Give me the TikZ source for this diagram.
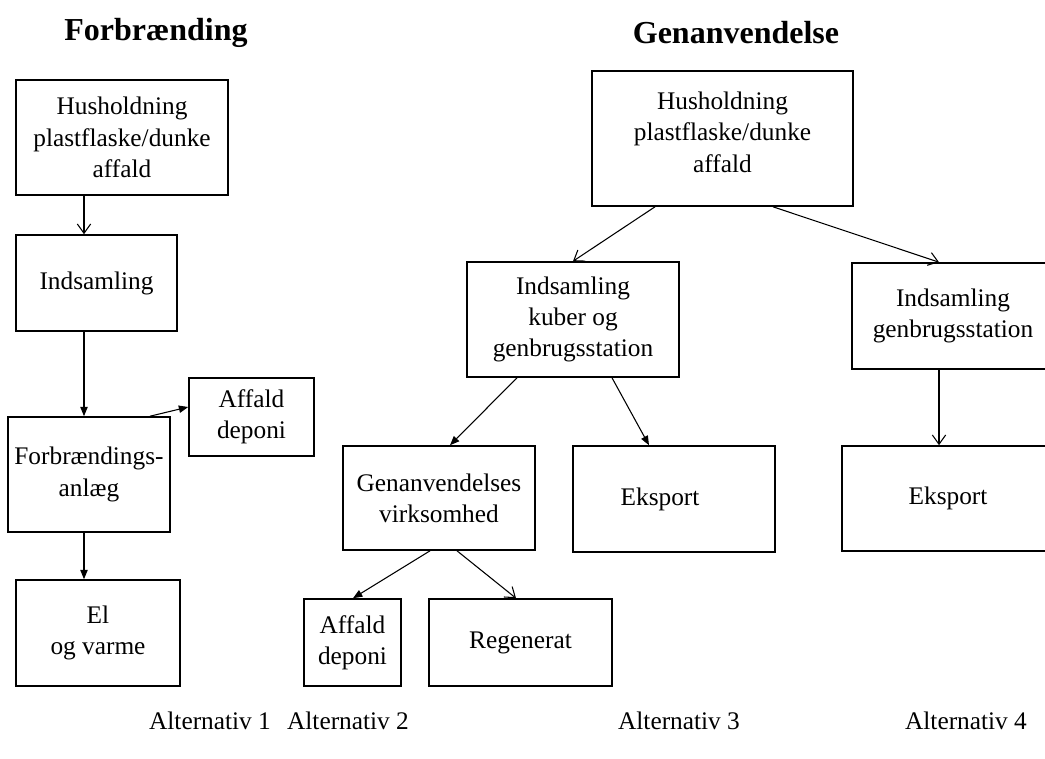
\documentclass[tikz,border=0pt]{standalone}
\usepackage{fontspec}
\setmainfont{Liberation Serif}
\usetikzlibrary{arrows.meta}
\begin{document}
\begin{tikzpicture}[x=0.75pt,y=-0.75pt,
  box/.style={draw, line width=1.2pt, inner sep=0pt, align=center,
    font=\fontsize{19}{23.5}\selectfont},
  plain/.style={inner sep=0pt, align=center, font=\fontsize{19}{23.5}\selectfont},
  openarr/.style={-{Straight Barb[length=7pt,width=10pt]}, line width=0.8pt},
  farr/.style={-{Triangle[length=7pt,width=5.5pt]}, line width=0.8pt},
  ttl/.style={inner sep=0pt, anchor=base, font=\fontsize{24}{28}\selectfont\bfseries},
  alt/.style={inner sep=0pt, anchor=base, font=\fontsize{19}{23}\selectfont}]
\useasboundingbox (0,0) rectangle (1045,758);

% titles
\node[ttl] (t1) at (156,40) {Forbrænding};
\node[ttl] (t2) at (736,43) {Genanvendelse};

% left column
\node[box, minimum width=159pt, minimum height=86.25pt] (hus1) at (122,137.5) {Husholdning\\plastflaske/dunke\\affald};
\node[box, minimum width=120.75pt, minimum height=72pt] (ind1) at (96.5,283) {Indsamling};
\node[box, minimum width=121.5pt, minimum height=86.25pt] (forbr) at (89,474.5) {Forbrændings-\\anlæg};
\node[box, minimum width=93.75pt, minimum height=58.5pt] (aff1) at (251.5,417) {Affald\\deponi};
\node[box, minimum width=123pt, minimum height=79.5pt] (el) at (98,633) {El\\og varme};

% right part
\node[box, minimum width=195.75pt, minimum height=101.25pt] (hus2) at (722.5,138.5) {};
\node[plain] (hus2t) at (722.5,132) {Husholdning\\plastflaske/dunke\\affald};
\node[box, minimum width=159pt, minimum height=86.25pt] (kuber) at (573,319.5) {Indsamling\\kuber og\\genbrugsstation};
\node[box, minimum width=151.5pt, minimum height=79.5pt] (indg) at (953,316) {Indsamling\\genbrugsstation};
\node[box, minimum width=144pt, minimum height=78pt] (genanv) at (439,498) {Genanvendelses\\virksomhed};
\node[box, minimum width=151.5pt, minimum height=79.5pt] (eks1) at (674,499) {};
\node[plain] (eks1t) at (660,499) {Eksport};
\node[box, minimum width=159pt, minimum height=78.75pt] (eks2) at (948,498.5) {Eksport};
\node[box, minimum width=72.75pt, minimum height=65.25pt] (aff2) at (352.5,642.5) {Affald\\deponi};
\node[box, minimum width=137.25pt, minimum height=65.25pt] (regen) at (520.5,642.5) {Regenerat};

% connectors
\draw[openarr] (84,0 |- hus1.south) -- (84,0 |- ind1.north);
\draw[farr] (84,0 |- ind1.south) -- (84,0 |- forbr.north);
\draw[farr] (84,0 |- forbr.south) -- (84,0 |- el.north);
\draw[farr] (150,0 |- forbr.north) -- (aff1.west |- 0,407);

\draw[openarr] (655,0 |- hus2.south) -- (573,0 |- kuber.north);
\draw[openarr] (773,0 |- hus2.south) -- (939,0 |- indg.north);
\draw[farr] (517,0 |- kuber.south) -- (450,0 |- genanv.north);
\draw[farr] (612,0 |- kuber.south) -- (649,0 |- eks1.north);
\draw[openarr] (939,0 |- indg.south) -- (939,0 |- eks2.north);
\draw[farr] (430,0 |- genanv.south) -- (353,0 |- aff2.north);
\draw[openarr] (457,0 |- genanv.south) -- (516,0 |- regen.north);

% alternative labels
\node[alt] (a1) at (210,729) {Alternativ 1};
\node[alt] (a2) at (348,729) {Alternativ 2};
\node[alt] (a3) at (679,729) {Alternativ 3};
\node[alt] (a4) at (966,729) {Alternativ 4};
\end{tikzpicture}
\end{document}
